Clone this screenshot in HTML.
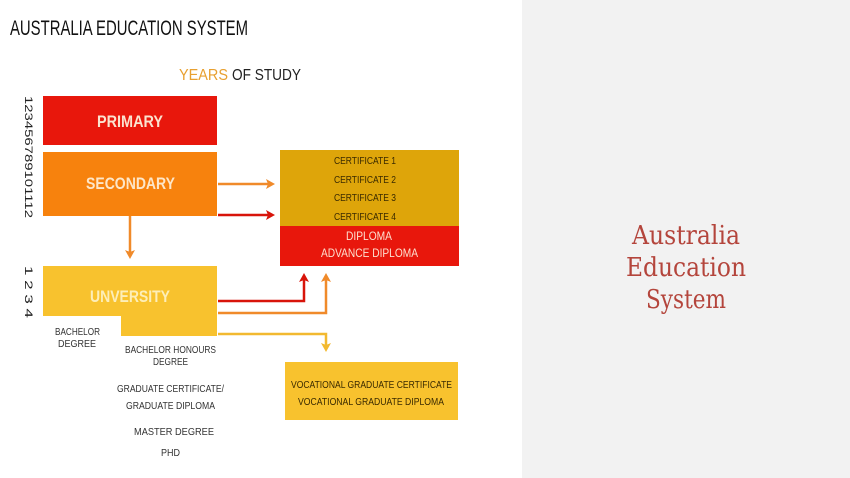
<!DOCTYPE html>
<html><head><meta charset="utf-8">
<style>
html,body{margin:0;padding:0;background:#fff;}
body{width:850px;height:478px;overflow:hidden;position:relative;}
svg{position:absolute;left:0;top:0;}
text{font-family:"Liberation Sans Narrow","Liberation Sans",sans-serif;}
</style></head><body>
<svg width="850" height="478" viewBox="0 0 850 478">
<defs>
<marker id="ao" markerWidth="10" markerHeight="10" refX="6" refY="5" orient="auto" markerUnits="userSpaceOnUse"><path d="M0,0 L9,5 L0,10 L2,5 z" fill="#f08a2a"/></marker>
<marker id="ar" markerWidth="10" markerHeight="10" refX="6" refY="5" orient="auto" markerUnits="userSpaceOnUse"><path d="M0,0 L9,5 L0,10 L2,5 z" fill="#d8140a"/></marker>
<marker id="ay" markerWidth="10" markerHeight="10" refX="6" refY="5" orient="auto" markerUnits="userSpaceOnUse"><path d="M0,0 L9,5 L0,10 L2,5 z" fill="#f2b930"/></marker>
</defs>
<rect x="522" y="0" width="328" height="478" fill="#f2f2f2"/>
<text x="10" y="35" font-size="21" fill="#111" textLength="238" lengthAdjust="spacingAndGlyphs">AUSTRALIA EDUCATION SYSTEM</text>
<text x="179" y="80" font-size="16" fill="#e8a030" textLength="49" lengthAdjust="spacingAndGlyphs">YEARS</text>
<text x="232" y="80" font-size="16" fill="#222" textLength="69" lengthAdjust="spacingAndGlyphs">OF STUDY</text>
<text transform="translate(25,96) rotate(90)" font-size="11" fill="#222" textLength="122" lengthAdjust="spacingAndGlyphs">123456789101112</text>
<text transform="translate(25,266) rotate(90)" font-size="11" fill="#222" textLength="52" lengthAdjust="spacingAndGlyphs">1 2 3 4</text>
<rect x="43" y="96" width="174" height="49" fill="#e8170c"/>
<text x="97" y="127" font-size="17" font-weight="bold" fill="#fbe3d0" textLength="66" lengthAdjust="spacingAndGlyphs">PRIMARY</text>
<rect x="43" y="152" width="174" height="64" fill="#f7820d"/>
<text x="86" y="189" font-size="17" font-weight="bold" fill="#fde6c8" textLength="89" lengthAdjust="spacingAndGlyphs">SECONDARY</text>
<path d="M43,266 H217 V336 H121 V316 H43 Z" fill="#f8c22e"/>
<text x="90" y="302" font-size="17" font-weight="bold" fill="#fdeeb8" textLength="80" lengthAdjust="spacingAndGlyphs">UNVERSITY</text>
<rect x="280" y="150" width="179" height="76" fill="#dea50a"/>
<rect x="280" y="226" width="179" height="40" fill="#e8170c"/>
<g font-size="10" fill="#3a2a00">
<text x="334" y="164" textLength="62" lengthAdjust="spacingAndGlyphs">CERTIFICATE 1</text>
<text x="334" y="183" textLength="62" lengthAdjust="spacingAndGlyphs">CERTIFICATE 2</text>
<text x="334" y="201" textLength="62" lengthAdjust="spacingAndGlyphs">CERTIFICATE 3</text>
<text x="334" y="220" textLength="62" lengthAdjust="spacingAndGlyphs">CERTIFICATE 4</text>
</g>
<g font-size="11.5" fill="#fde0d0">
<text x="346" y="240" textLength="46" lengthAdjust="spacingAndGlyphs">DIPLOMA</text>
<text x="321" y="257" textLength="97" lengthAdjust="spacingAndGlyphs">ADVANCE DIPLOMA</text>
</g>
<rect x="285" y="362" width="173" height="58" fill="#f8c22e"/>
<g font-size="10.5" fill="#3a2a00">
<text x="291" y="388" textLength="161" lengthAdjust="spacingAndGlyphs">VOCATIONAL GRADUATE CERTIFICATE</text>
<text x="298" y="405" textLength="146" lengthAdjust="spacingAndGlyphs">VOCATIONAL GRADUATE DIPLOMA</text>
</g>
<g stroke-width="2.5" fill="none">
<path d="M218,184 H272" stroke="#f08a2a" marker-end="url(#ao)"/>
<path d="M218,215 H272" stroke="#d8140a" marker-end="url(#ar)"/>
<path d="M130,216 V256" stroke="#f08a2a" marker-end="url(#ao)"/>
<path d="M218,301 H304 V276" stroke="#d8140a" marker-end="url(#ar)"/>
<path d="M218,313 H326 V276" stroke="#f08a2a" marker-end="url(#ao)"/>
<path d="M218,334 H326 V349" stroke="#f2b930" marker-end="url(#ay)"/>
</g>
<g font-size="10.5" fill="#333">
<text x="55" y="335" textLength="45" lengthAdjust="spacingAndGlyphs">BACHELOR</text>
<text x="58" y="347" textLength="38" lengthAdjust="spacingAndGlyphs">DEGREE</text>
<text x="125" y="353" textLength="91" lengthAdjust="spacingAndGlyphs">BACHELOR HONOURS</text>
<text x="153" y="365" textLength="35" lengthAdjust="spacingAndGlyphs">DEGREE</text>
<text x="117" y="392" textLength="107" lengthAdjust="spacingAndGlyphs">GRADUATE CERTIFICATE/</text>
<text x="126" y="409" textLength="89" lengthAdjust="spacingAndGlyphs">GRADUATE DIPLOMA</text>
<text x="134" y="435" textLength="80" lengthAdjust="spacingAndGlyphs">MASTER DEGREE</text>
<text x="161" y="456" textLength="19" lengthAdjust="spacingAndGlyphs">PHD</text>
</g>
<g font-size="26" fill="#b4453c" text-anchor="middle">
<text x="686" y="244" style="font-family:'DejaVu Serif',serif" textLength="108" lengthAdjust="spacingAndGlyphs">Australia</text>
<text x="686" y="276" style="font-family:'DejaVu Serif',serif" textLength="120" lengthAdjust="spacingAndGlyphs">Education</text>
<text x="686" y="308" style="font-family:'DejaVu Serif',serif" textLength="80" lengthAdjust="spacingAndGlyphs">System</text>
</g>
</svg>
</body></html>
